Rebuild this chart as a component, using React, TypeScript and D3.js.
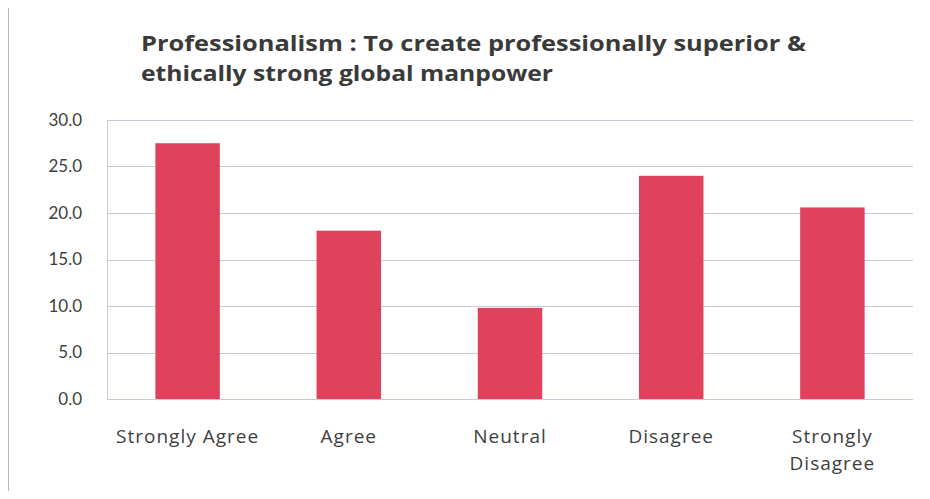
import { useEffect, useRef } from "react";
import * as d3 from "d3";

const categories = ["Strongly Agree", "Agree", "Neutral", "Disagree", "Strongly Disagree"];
const values = [27.5, 18.1, 9.8, 24.0, 20.6];
const yTicks = [0, 5, 10, 15, 20, 25, 30];
const titleLines = [
  "Professionalism : To create professionally superior &",
  "ethically strong global manpower",
];
const titleWidths = [665, 412];

const W = 930;
const H = 499;
const margin = { top: 120, right: 17, bottom: 100, left: 107 };

export default function App() {
  const ref = useRef<SVGSVGElement>(null);

  useEffect(() => {
    const svg = d3.select(ref.current);
    svg.selectAll("*").remove();

    const width = W - margin.left - margin.right;
    const height = H - margin.top - margin.bottom;
    const font = "'Open Sans', Lato, sans-serif";

    svg.append("rect").attr("width", W).attr("height", H).attr("fill", "#fff");

    // outer frame
    svg
      .append("rect")
      .attr("x", 8.5)
      .attr("y", 5.5)
      .attr("width", W + 20)
      .attr("height", H + 20)
      .attr("fill", "none")
      .attr("stroke", "#b8b8c0")
      .attr("stroke-width", 1);

    titleLines.forEach((t, i) => {
      svg
        .append("text")
        .attr("x", 141)
        .attr("y", 51 + i * 30)
        .attr("font-family", font)
        .attr("font-size", 21)
        .attr("font-weight", 700)
        .attr("fill", "#3a3a3a")
        .attr("textLength", titleWidths[i])
        .attr("lengthAdjust", "spacingAndGlyphs")
        .text(t);
    });

    const plot = svg
      .append("g")
      .attr("transform", `translate(${margin.left},${margin.top})`);

    const x = d3
      .scaleBand()
      .domain(categories)
      .range([0, width])
      .paddingInner(0.6)
      .paddingOuter(0.3);

    const y = d3.scaleLinear().domain([0, 30]).range([height, 0]);

    // gridlines
    plot
      .selectAll("line.grid")
      .data(yTicks)
      .enter()
      .append("line")
      .attr("class", "grid")
      .attr("x1", 0)
      .attr("x2", width)
      .attr("y1", (d) => Math.round(y(d)) + 0.5)
      .attr("y2", (d) => Math.round(y(d)) + 0.5)
      .attr("stroke", "#c9cad6")
      .attr("stroke-width", 1);

    plot
      .append("line")
      .attr("x1", 0.5)
      .attr("x2", 0.5)
      .attr("y1", 0)
      .attr("y2", height)
      .attr("stroke", "#c9cad6");

    // y tick labels
    plot
      .selectAll("text.ytick")
      .data(yTicks)
      .enter()
      .append("text")
      .attr("class", "ytick")
      .attr("x", -25)
      .attr("y", (d) => y(d))
      .attr("dy", "0.35em")
      .attr("text-anchor", "end")
      .attr("font-family", "Lato, sans-serif")
      .attr("font-size", 17)
      .attr("fill", "#404040")
      .text((d) => d.toFixed(1));

    // bars
    plot
      .selectAll("rect.bar")
      .data(values)
      .enter()
      .append("rect")
      .attr("class", "bar")
      .attr("x", (_, i) => x(categories[i])!)
      .attr("y", (d) => y(d))
      .attr("width", x.bandwidth())
      .attr("height", (d) => height - y(d))
      .attr("fill", "#e0425b");

    // x labels (wrap "Strongly Disagree")
    categories.forEach((c) => {
      const cx = x(c)! + x.bandwidth() / 2;
      const lines = c === "Strongly Disagree" ? ["Strongly", "Disagree"] : [c];
      const t = plot
        .append("text")
        .attr("text-anchor", "middle")
        .attr("font-family", font)
        .attr("font-size", 19)
        .attr("letter-spacing", 1)
        .attr("fill", "#404040");
      lines.forEach((l, i) => {
        t.append("tspan")
          .attr("x", cx)
          .attr("y", height + 44 + i * 27)
          .text(l);
      });
    });
  }, []);

  return <svg ref={ref} width={W} height={H} style={{ display: "block", margin: -8 }} />;
}
